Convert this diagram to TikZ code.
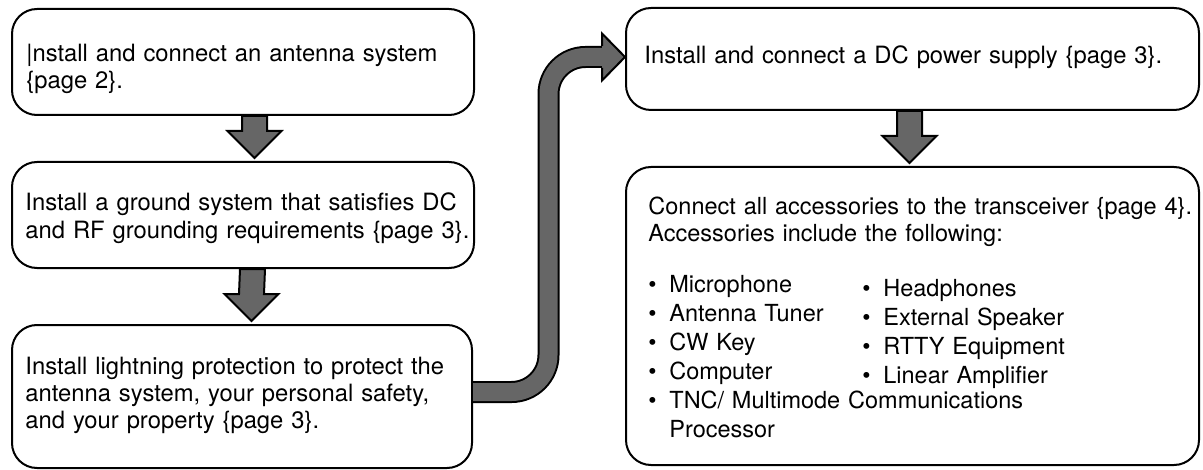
\documentclass[tikz,border=0pt]{standalone}
\usepackage{fontspec}
\setmainfont{TeX Gyre Heros}
\usetikzlibrary{calc}

\definecolor{arrowgray}{RGB}{102,102,102}
\newcommand{\bul}[1]{\makebox[10.5pt][l]{•}#1}

\begin{document}
\begin{tikzpicture}[x=0.5pt, y=-0.5pt,
    taskbox/.style={draw, line width=1pt, rounded corners=12.5pt},
    tasktext/.style={align=left, inner sep=0pt, text width=280pt, anchor=base west,
      font=\fontsize{11.9}{13.5}\selectfont},
    fatarrow/.style={draw, line width=1pt, fill=arrowgray, line join=miter},
    fatband/.style={line width=1pt, double=arrowgray, double distance=9pt, rounded corners=18.5pt}]
  \useasboundingbox (0,0) rectangle (1203,470);

  % left column
  \node[taskbox, minimum width=231pt, minimum height=53pt] (ant) at (243,62) {};
  \node[tasktext] (anttext) at ($(ant.north west)+(15,54)$) {|nstall and connect an antenna system\\\{page 2\}.};

  \node[taskbox, minimum width=231pt, minimum height=53pt] (gnd) at (243,215) {};
  \node[tasktext] (gndtext) at ($(gnd.north west)+(14,50)$) {Install a ground system that satisfies DC\\and RF grounding requirements \{page 3\}.};

  \node[taskbox, minimum width=230pt, minimum height=71.5pt] (lgt) at (242,396.5) {};
  \node[tasktext] (lgttext) at ($(lgt.north west)+(14,50)$) {Install lightning protection to protect the\\antenna system, your personal safety,\\and your property \{page 3\}.};

  % right column
  \node[taskbox, minimum width=286.5pt, minimum height=51pt] (dcp) at (912.5,59) {};
  \node[tasktext] (dcptext) at ($(dcp.north west)+(19,57)$) {Install and connect a DC power supply \{page 3\}.};

  \node[taskbox, minimum width=286.5pt, minimum height=149pt] (acc) at (912.5,316) {};
  \node[tasktext, font=\fontsize{11.75}{13.5}\selectfont] (acctext) at ($(acc.north west)+(23,48)$) {Connect all accessories to the transceiver \{page 4\}.\\
    Accessories include the following:\\[12pt]
    \makebox[107pt][l]{\bul{Microphone}}\raisebox{-2pt}{\bul{Headphones}}\\[1pt]
    \makebox[107pt][l]{\bul{Antenna Tuner}}\raisebox{-2pt}{\bul{External Speaker}}\\[1pt]
    \makebox[107pt][l]{\bul{CW Key}}\raisebox{-2pt}{\bul{RTTY Equipment}}\\[1pt]
    \makebox[107pt][l]{\bul{Computer}}\raisebox{-2pt}{\bul{Linear Amplifier}}\\[1pt]
    \bul{TNC/ Multimode Communications}\\[1pt]
    \hspace*{10.5pt}Processor};

  % block arrows
  \foreach \from/\to/\dx in {ant/gnd/11.5, gnd/lgt/9.5, dcp/acc/-3}
    \draw[fatarrow] ($(\from.south)+(\dx-12.5,0)$) -- ($(\to.north)+(\dx-12.5,-30)$)
      -- ($(\to.north)+(\dx-27,-30)$) -- ($(\to.north)+(\dx,-3)$)
      -- ($(\to.north)+(\dx+27,-30)$) -- ($(\to.north)+(\dx+12.5,-30)$)
      -- ($(\from.south)+(\dx+12.5,0)$) -- cycle;

  \draw[fatband] ($(lgt.east)+(0,-4.5)$) -| ($(dcp.west)+(-76.5,-2)$) -- ($(dcp.west)+(-21,-2)$);
  \draw[fatarrow] ($(dcp.west)+(-23,-13)$) -- ($(dcp.west)+(-23,-25.5)$) -- ($(dcp.west)+(0,-2)$)
    -- ($(dcp.west)+(-23,21.5)$) -- ($(dcp.west)+(-23,9)$);
\end{tikzpicture}
\end{document}
